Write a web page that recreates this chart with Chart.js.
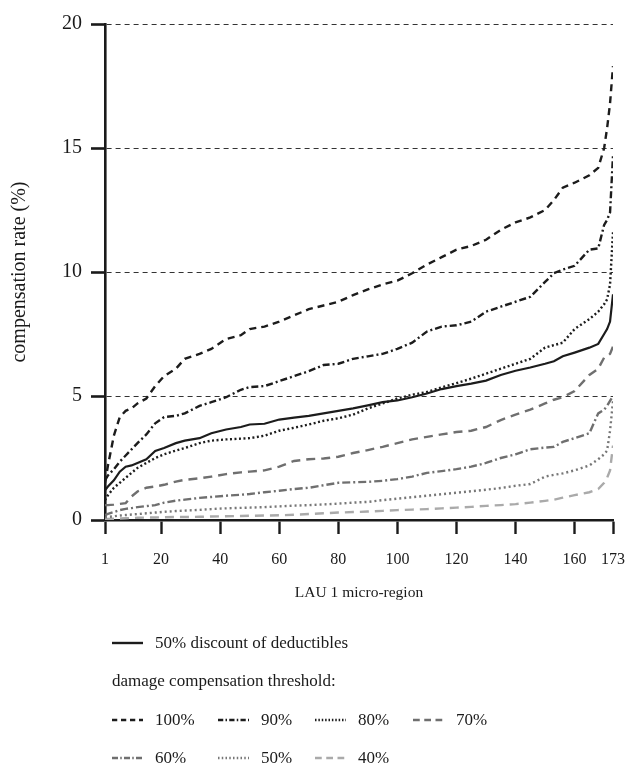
<!DOCTYPE html>
<html>
<head>
<meta charset="utf-8">
<script src="https://cdn.jsdelivr.net/npm/chart.js@4"></script>
<style>
html,body{margin:0;padding:0;background:#fff;}
#wrap{width:627px;height:764px;position:relative;}
</style>
</head>
<body>
<div id="wrap"><canvas id="c" width="627" height="764"></canvas></div>
<script>
const regions = [1,2,4,6,8,10,12,15,18,21,25,28,33,37,42,47,50,55,60,65,70,75,80,85,90,95,100,105,110,115,120,125,130,135,140,145,150,153,156,160,165,168,170,171,172,173];
const xTickValues = [1,20,40,60,80,100,120,140,160,173];
const yTickValues = [0,5,10,15,20];

const discount50 = [1.2,1.35,1.6,1.95,2.15,2.2,2.3,2.45,2.78,2.9,3.1,3.2,3.3,3.5,3.65,3.75,3.85,3.88,4.05,4.13,4.2,4.3,4.4,4.5,4.62,4.75,4.82,4.95,5.1,5.28,5.4,5.5,5.62,5.85,6.02,6.15,6.3,6.4,6.6,6.75,6.95,7.1,7.5,7.7,8.0,9.1];
const thr100 = [1.5,2.2,3.4,4.15,4.4,4.5,4.7,4.9,5.4,5.8,6.1,6.5,6.7,6.9,7.3,7.45,7.7,7.8,8.0,8.25,8.5,8.65,8.8,9.07,9.3,9.5,9.65,9.95,10.3,10.6,10.9,11.05,11.3,11.7,12.0,12.2,12.5,12.9,13.4,13.6,13.9,14.2,15.0,15.8,16.8,18.3];
const thr90 = [1.6,1.8,2.05,2.35,2.6,2.85,3.1,3.45,3.9,4.15,4.2,4.3,4.6,4.75,4.95,5.25,5.36,5.4,5.6,5.8,6.0,6.25,6.3,6.5,6.6,6.7,6.9,7.15,7.6,7.8,7.85,8.0,8.4,8.6,8.8,9.0,9.6,9.95,10.1,10.25,10.9,10.95,11.9,12.1,12.4,14.7];
const thr80 = [0.8,1.0,1.3,1.5,1.7,1.9,2.1,2.3,2.5,2.65,2.8,2.9,3.1,3.2,3.25,3.28,3.3,3.4,3.6,3.72,3.85,4.0,4.1,4.25,4.5,4.7,4.9,5.05,5.16,5.35,5.52,5.7,5.9,6.1,6.3,6.5,6.95,7.05,7.15,7.7,8.1,8.4,8.7,8.9,9.5,11.6];
const thr70 = [0.6,0.6,0.62,0.65,0.68,0.95,1.15,1.3,1.35,1.42,1.55,1.62,1.68,1.75,1.85,1.92,1.95,2.0,2.15,2.38,2.45,2.48,2.55,2.7,2.82,2.95,3.1,3.25,3.35,3.45,3.55,3.6,3.75,4.03,4.25,4.45,4.7,4.85,4.95,5.2,5.85,6.1,6.55,6.6,6.7,7.0];
const thr60 = [0.2,0.25,0.32,0.4,0.45,0.48,0.52,0.56,0.6,0.7,0.78,0.82,0.89,0.93,0.98,1.02,1.05,1.12,1.18,1.25,1.3,1.4,1.5,1.52,1.54,1.58,1.65,1.75,1.9,1.97,2.05,2.15,2.3,2.5,2.65,2.85,2.92,2.95,3.15,3.3,3.5,4.3,4.45,4.6,4.8,5.0];
const thr50 = [0.1,0.12,0.15,0.18,0.2,0.22,0.24,0.27,0.3,0.33,0.36,0.38,0.41,0.44,0.47,0.49,0.5,0.52,0.55,0.58,0.6,0.63,0.66,0.7,0.73,0.8,0.86,0.92,0.98,1.04,1.1,1.16,1.22,1.29,1.38,1.45,1.75,1.82,1.88,2.0,2.2,2.45,2.65,2.8,3.6,4.8];
const thr40 = [0.03,0.04,0.05,0.06,0.07,0.08,0.09,0.1,0.1,0.11,0.12,0.12,0.13,0.14,0.15,0.16,0.17,0.18,0.19,0.21,0.24,0.27,0.3,0.32,0.34,0.37,0.4,0.42,0.44,0.47,0.5,0.53,0.57,0.6,0.64,0.7,0.77,0.82,0.9,1.0,1.12,1.25,1.5,1.7,2.0,3.0];

const legendMain = '50% discount of deductibles';
const legendHeading = 'damage compensation threshold:';

const SERIF = '"Liberation Serif", "Times New Roman", serif';
const pts = arr => regions.map((x, i) => ({x: x, y: arr[i]}));

const series = [
  {label: '100%', data: thr100, color: '#1c1c1c', width: 2.4, dash: [7, 5]},
  {label: '90%', data: thr90, color: '#1c1c1c', width: 2.4, dash: [7, 3, 2, 3]},
  {label: '80%', data: thr80, color: '#1c1c1c', width: 2.4, dash: [2, 2.5]},
  {label: '70%', data: thr70, color: '#6f6f6f', width: 2.4, dash: [9, 6]},
  {label: '60%', data: thr60, color: '#6f6f6f', width: 2.4, dash: [8, 3, 2, 3]},
  {label: '50%', data: thr50, color: '#777777', width: 2.4, dash: [2, 3]},
  {label: '40%', data: thr40, color: '#aaaaaa', width: 2.4, dash: [9, 6]}
];
const mainSeries = {label: legendMain, data: discount50, color: '#1c1c1c', width: 2.2, dash: []};

const datasets = [mainSeries].concat(series).map(s => ({
  label: s.label,
  data: pts(s.data),
  borderColor: s.color,
  borderWidth: s.width,
  borderDash: s.dash,
  borderCapStyle: 'butt',
  pointRadius: 0,
  tension: 0,
  fill: false
}));

const legendPlugin = {
  id: 'customLegend',
  afterDraw(chart) {
    const ctx = chart.ctx;
    const ca = chart.chartArea;
    const x0 = ca.left + 7;
    ctx.save();
    ctx.font = '17px ' + SERIF;
    ctx.fillStyle = '#1a1a1a';
    ctx.textBaseline = 'middle';
    ctx.textAlign = 'left';
    const sample = (x, y, s) => {
      ctx.save();
      ctx.strokeStyle = s.color;
      ctx.lineWidth = 2.4;
      ctx.setLineDash(s.dash.length ? s.dash.map(v => v * 0.75) : []);
      ctx.beginPath();
      ctx.moveTo(x, y);
      ctx.lineTo(x + 31, y);
      ctx.stroke();
      ctx.restore();
      ctx.fillText(s.label, x + 43, y + 1);
    };
    const r1 = ca.bottom + 123;
    sample(x0, r1, mainSeries);
    ctx.fillText(legendHeading, x0, ca.bottom + 162);
    const cols = [0, 106, 203, 301];
    const r3 = ca.bottom + 200, r4 = ca.bottom + 238;
    series.forEach((s, i) => {
      const row = i < 4 ? r3 : r4;
      const col = i < 4 ? cols[i] : cols[i - 4];
      sample(x0 + col, row, s);
    });
    ctx.restore();
  }
};

new Chart(document.getElementById('c'), {
  type: 'line',
  data: {datasets: datasets},
  plugins: [legendPlugin],
  options: {
    responsive: false,
    animation: false,
    layout: {padding: {left: 0, right: 14, top: 24, bottom: 0}},
    plugins: {legend: {display: false}, tooltip: {enabled: false}},
    scales: {
      x: {
        type: 'linear',
        min: 1,
        max: 173,
        afterBuildTicks: s => { s.ticks = xTickValues.map(v => ({value: v})); },
        afterFit: s => { s.height = 244; s.paddingRight = 0; },
        grid: {display: true, drawOnChartArea: false, drawTicks: true, tickLength: 14, tickWidth: 2.4, tickColor: '#1a1a1a', color: '#1a1a1a'},
        border: {display: true, color: '#1a1a1a', width: 2.6},
        ticks: {autoSkip: false, maxRotation: 0, padding: 16, color: '#1a1a1a', font: {family: SERIF, size: 16}, callback: v => String(v)},
        title: {display: true, text: 'LAU 1 micro-region', color: '#1a1a1a', font: {family: SERIF, size: 15.5}, padding: {top: 0, bottom: 162}}
      },
      y: {
        type: 'linear',
        min: 0,
        max: 20,
        afterBuildTicks: s => { s.ticks = yTickValues.map(v => ({value: v})); },
        afterFit: s => { s.width = 105; },
        grid: {display: true, drawOnChartArea: true, drawTicks: true, tickLength: 14, tickWidth: 2.6, tickColor: '#1a1a1a', color: '#333333', lineWidth: 1},
        border: {display: true, color: '#1a1a1a', width: 2.6, dash: [5, 4]},
        ticks: {padding: 9, color: '#1a1a1a', font: {family: SERIF, size: 20}},
        title: {display: true, text: 'compensation rate (%)', color: '#1a1a1a', font: {family: SERIF, size: 20}, padding: {top: 8, bottom: 0}}
      }
    }
  }
});
</script>
</body>
</html>
